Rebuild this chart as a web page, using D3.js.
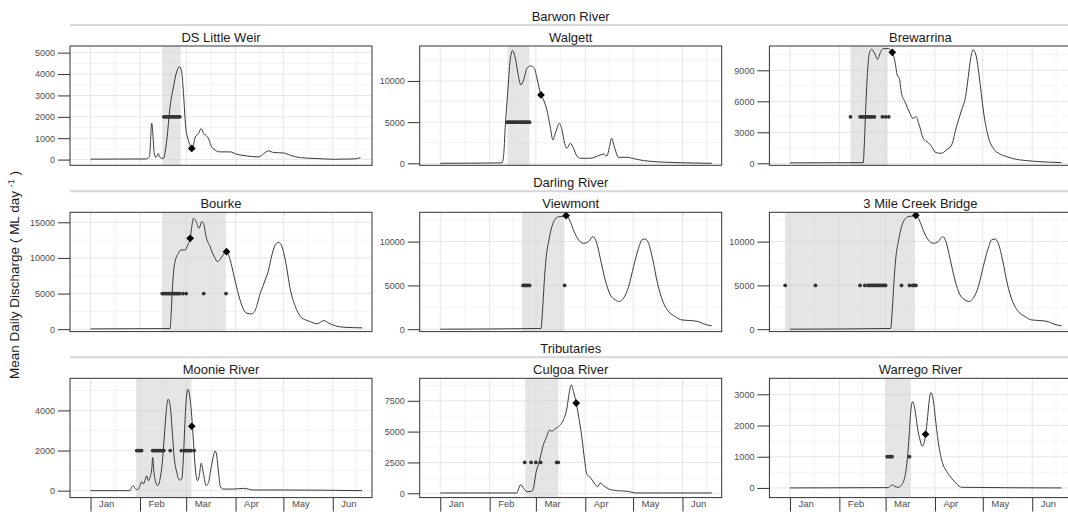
<!DOCTYPE html>
<html>
<head>
<meta charset="utf-8">
<script src="https://cdn.jsdelivr.net/npm/d3@7"></script>
<style>
  body { margin: 0; background: #fff; }
  svg { display: block; font-family: "Liberation Sans", Arial, sans-serif; }
</style>
</head>
<body>
<div id="chart"></div>
<script>
// facet rows (strip titles) and panel titles
const groups = ["Barwon River", "Darling River", "Tributaries"];
const sites = [
    ["DS Little Weir", "Walgett", "Brewarrina"],
    ["Bourke", "Viewmont", "3 Mile Creek Bridge"],
    ["Moonie River", "Culgoa River", "Warrego River"]
];
const monthLabels = ["Jan", "Feb", "Mar", "Apr", "May", "Jun"];

// daily discharge, [day since 1 Jan, ML/day]
const flowDSLittleWeir = [[0,20],[35,30],[37,150],[38.4,1700],[40,280],[41,100],[42.5,280],[43.5,100],[45.7,50],[47.8,900],[49.9,2470],[52,3400],[54,4100],[55.8,4340],[57.2,4100],[58.3,3100],[59.7,1530],[61.4,900],[62.8,600],[64,560],[65.7,1060],[67.7,1220],[69.4,1450],[70.9,1220],[72.3,1140],[74,980],[75.5,670],[78.2,440],[81.3,360],[87.6,360],[91.8,250],[98,170],[105.5,125],[108.6,280],[111.7,410],[114.9,330],[121,310],[125.4,200],[131.7,90],[142.2,50],[152.6,15],[165.2,30],[169.4,90]];
const flowWalgett = [[0,0],[38.7,50],[39.7,810],[40.8,4450],[42.3,8500],[43.9,12550],[45.4,13690],[47.1,12760],[49.1,10530],[50.6,9520],[52.3,10125],[54.4,11540],[56.5,11830],[59,11540],[60.7,10330],[63.2,8300],[64.8,7700],[66.9,6480],[69,4455],[70.7,2835],[72.2,3650],[74.9,4860],[76.4,4050],[78,2430],[79.5,1820],[81.6,2430],[83.6,1820],[85.7,890],[87.8,610],[94,610],[100.4,1010],[102.5,1130],[104.6,890],[106.2,2030],[107.5,3040],[109.2,2030],[111.9,730],[117,730],[121.3,570],[127.6,325],[138,160],[148.5,80],[170.4,0]];
const flowBrewarrina = [[0,40],[46,60],[46.6,1610],[47.5,5160],[48.5,8390],[49.8,10650],[51.2,11030],[53.3,10580],[55,10060],[56.9,10800],[58.5,11100],[61.7,11100],[64.2,10740],[65.9,9840],[67.3,8550],[68.6,8230],[70,6770],[72.1,5970],[75.3,4840],[77,4350],[79,4520],[81.1,3710],[83.6,2420],[86.8,2000],[88.9,1610],[91.6,1030],[95,970],[98.2,1290],[101.4,1770],[104.5,3550],[107.7,5160],[110.2,6450],[111.9,8390],[113.4,10160],[115,10970],[116.7,10480],[118.8,8390],[121.3,5160],[124.4,2580],[127.6,1450],[131.7,900],[135.9,650],[140,450],[148.5,260],[156.8,160],[170.4,65]];
const flowBourke = [[0,40],[49.9,90],[50.5,1780],[51.2,5040],[52,7850],[53,9480],[55.1,10650],[56.6,11110],[59.3,11110],[61,11820],[62.5,12750],[63.5,14380],[64.6,15550],[66.3,15080],[68,14150],[69.8,15080],[70.9,14850],[72.5,12980],[75,11580],[77.8,10090],[79.7,9480],[81.8,9950],[83.9,10650],[85.3,10880],[87.6,9710],[90.1,7380],[92.9,4810],[95.6,2940],[98.1,2240],[101.3,2150],[103.4,2710],[106.5,5040],[109.6,6910],[111.7,8310],[113.8,10410],[115.9,11820],[118,12190],[120.1,11580],[122.2,9710],[125.4,5510],[128.5,3180],[131.7,1780],[134.8,1310],[137.9,1070],[142.1,750],[146.3,1210],[149.5,840],[153.7,470],[158.9,280],[170.4,190]];
const flowViewmont = [[0,0],[63.2,80],[64.2,2200],[65.2,5250],[66.5,8290],[68,10000],[70,11710],[72.1,12550],[74.2,12850],[76.3,12850],[79,12970],[81.1,12470],[84,11140],[86.8,10190],[90,9810],[93,10000],[95.8,10570],[97.9,10000],[100.4,8100],[103.5,5630],[106.7,3920],[109.8,3350],[112.5,3160],[115,3540],[118.2,4870],[121.3,7150],[124.4,9240],[126.5,10190],[128.6,10300],[130.7,9810],[133.4,7910],[136.3,5250],[139.7,3160],[143.3,2020],[147.4,1440],[151.6,1060],[156.8,990],[162,870],[165.2,610],[170.4,380]];
const flow3MileCreek = [[0,0],[63.2,80],[64.2,2200],[65.2,5250],[66.5,8290],[68,10000],[70,11710],[72.1,12550],[74.2,12850],[76.3,12900],[79,13000],[81.1,12470],[84,11140],[86.8,10190],[90,9810],[93,10000],[95.8,10570],[97.9,10000],[100.4,8100],[103.5,5630],[106.7,3920],[109.8,3350],[112.5,3160],[115,3540],[118.2,4870],[121.3,7150],[124.4,9240],[126.5,10190],[128.6,10300],[130.7,9810],[133.4,7910],[136.3,5250],[139.7,3160],[143.3,2020],[147.4,1440],[151.6,1060],[156.8,990],[162,870],[165.2,610],[170.4,380]];
const flowMoonie = [[0,0],[24.7,0],[25.8,165],[26.8,250],[27.9,115],[28.9,50],[30,80],[31,250],[32.1,445],[33.1,330],[34.4,575],[35.2,740],[36.3,490],[37.3,660],[38.4,1070],[39,1650],[39.8,905],[40.9,410],[42.1,250],[43.6,575],[45,1400],[46.3,2720],[47.4,3870],[48.6,4560],[49.9,4280],[51.2,3050],[52.4,1730],[54.1,905],[55.8,530],[57.2,575],[58.3,1730],[59.3,3540],[60.4,4860],[61,5050],[62.1,4770],[63.5,3700],[64.6,2390],[65.6,1230],[67.1,490],[68.2,740],[69.4,1370],[70.9,820],[72.5,250],[74,410],[75.5,1070],[77.1,1730],[78.2,1980],[79.2,1730],[80.3,905],[81.3,250],[83,80],[89.7,80],[96,115],[102.3,33],[121.2,33],[170.4,0]];
const flowCulgoa = [[0,20],[48.1,20],[49.1,350],[50.6,700],[52.3,400],[54.4,130],[57.5,160],[58.6,480],[60.1,1690],[61.7,2360],[63.2,3160],[64.8,3970],[66.5,4500],[68.6,5120],[70,5040],[72.1,5230],[74.9,5490],[77.4,5980],[79.5,6910],[80.9,8120],[82.2,8790],[83.6,8250],[85.3,7320],[86.8,6250],[88.9,4500],[90.5,2760],[92,1550],[94.1,1290],[96.6,830],[98.7,540],[100.4,830],[102.5,620],[105.6,350],[110.8,210],[117,160],[123.4,20],[170.4,20]];
const flowWarrego = [[0,0],[61.7,10],[63.2,65],[64.4,95],[65.9,45],[68,20],[70,95],[72.1,360],[73.6,900],[74.9,1750],[75.9,2500],[77,2760],[78.5,2500],[79.9,1960],[81.6,1540],[83,1340],[84.1,1430],[85.1,1720],[86.4,2280],[87.4,2820],[88.5,3050],[89.9,2820],[91.6,2070],[93.5,1320],[95.8,790],[98.4,520],[101.4,310],[104.6,130],[107.7,20],[170.4,0]];

// shaded window [start day, end day]
const windowDays = [[45.1, 56.6], [42.2, 56], [38, 61.3], [45, 84.9], [51.2, 78], [-3.1, 78.4], [28.5, 63.3], [53.3, 74.2], [60.2, 75.7]];
// sampling points: level and days
const sampleLevel = [2000, 5000, 4500, 5000, 5000, 5000, 2000, 2500, 1000];
const sampleDays = [
    [46,47,48,49,50,51,52,53,54,55,56],
    [42,43,44,45,46,47,48,49,50,51,52,53,54,55,56],
    [38,44,45,46,47,48,49,50,51,52,53,58,60,62],
    [45,46,47,48,49,50,51,52,53,54,55,56,58,60,71,85],
    [52,53,54,55,56,78],
    [-3,16,44,47,49,50,51,52,53,54,55,56,57,58,59,60,70,75,77,78,79],
    [29,30,31,32,39,40,41,42,43,44,45,46,50,57,59,60,61,62,63,65],
    [53,57,60,63,73,74],
    [61,62,63,64,75]
];
// diamond markers [day, value]
const peakPoints = [
    [[63.5, 520]], [[63.2, 8300]], [[64.2, 10740]],
    [[62.5, 12750], [85.3, 10880]], [[79, 12970]], [[79, 13000]],
    [[63.5, 3210]], [[85.3, 7320]], [[85.1, 1720]]
];
// y axis limits and ticks per panel
const yLimits = [[-267, 5311], [-243, 14246], [-194, 11352], [-336, 16400], [-274, 13347], [-274, 13347], [-346, 5600], [-354, 9325], [-310, 3513]];
const yTicks = [
    [0,1000,2000,3000,4000,5000], [0,5000,10000], [0,3000,6000,9000],
    [0,5000,10000,15000], [0,5000,10000], [0,5000,10000],
    [0,2000,4000], [0,2500,5000,7500], [0,1000,2000,3000]
];
const xLimits = [-12.9, 176.6]; // days from 1 Jan

const flows = [flowDSLittleWeir, flowWalgett, flowBrewarrina, flowBourke, flowViewmont, flow3MileCreek, flowMoonie, flowCulgoa, flowWarrego];

// layout
const W = 1068, H = 512;
const colLeft = [70, 419.7, 769.4], panelW = 302;
const rowTop = [46, 212.3, 378.3], panelH = 119.3;

const t0 = new Date(2020, 0, 1);
const toDate = d => new Date(t0.getTime() + d * 864e5);
const monthStarts = d3.timeMonth.range(t0, new Date(2020, 6, 1));
const monthAll = d3.timeMonth.range(t0, new Date(2020, 7, 1));
const monthMids = d3.pairs(monthAll).map(([a, b]) => new Date((a.getTime() + b.getTime()) / 2));

const svg = d3.select("#chart").append("svg")
    .attr("width", W)
    .attr("height", H);

// y axis title
const yTitle = svg.append("text")
    .attr("transform", "translate(19,275) rotate(-90)")
    .attr("text-anchor", "middle")
    .style("font-size", "13.5px")
    .style("fill", "#1a1a1a");
yTitle.append("tspan").text("Mean Daily Discharge ( ML day ");
yTitle.append("tspan").attr("dy", -5).style("font-size", "9px").text("-1");
yTitle.append("tspan").attr("dy", 5).text(" )");

// strips
groups.forEach((g, r) => {
    svg.append("line")
        .attr("x1", colLeft[0]).attr("x2", W)
        .attr("y1", rowTop[r] - 21).attr("y2", rowTop[r] - 21)
        .style("stroke", "#d6d6d6")
        .style("stroke-width", 2);
    svg.append("text")
        .attr("x", (colLeft[0] + colLeft[2] + panelW) / 2)
        .attr("y", rowTop[r] - 30)
        .attr("dy", "0.35em")
        .attr("text-anchor", "middle")
        .style("font-size", "13px")
        .style("fill", "#1a1a1a")
        .text(g);
});

sites.forEach((row, r) => row.forEach((site, c) => {
    const i = r * 3 + c;
    const left = colLeft[c], top = rowTop[r];

    const x = d3.scaleTime()
        .domain(xLimits.map(toDate))
        .range([0, panelW]);
    const y = d3.scaleLinear()
        .domain(yLimits[i])
        .range([panelH, 0]);

    // panel title
    svg.append("text")
        .attr("x", left + panelW / 2)
        .attr("y", top - 9)
        .attr("dy", "0.35em")
        .attr("text-anchor", "middle")
        .style("font-size", "13px")
        .style("fill", "#1a1a1a")
        .text(site);

    const g = svg.append("g").attr("transform", `translate(${left},${top})`);
    const clipId = "clip" + i;
    g.append("clipPath").attr("id", clipId)
        .append("rect").attr("width", panelW).attr("height", panelH);
    const inner = g.append("g").attr("clip-path", `url(#${clipId})`);

    // minor grid
    const ticks = yTicks[i];
    const step = ticks[1] - ticks[0];
    const yMinor = d3.range(ticks[0] - step / 2, yLimits[i][1], step).filter(v => v > yLimits[i][0]);
    inner.selectAll(".vminor").data(monthMids).enter().append("line")
        .attr("x1", d => x(d)).attr("x2", d => x(d))
        .attr("y1", 0).attr("y2", panelH)
        .style("stroke", "#f3f3f3");
    inner.selectAll(".hminor").data(yMinor).enter().append("line")
        .attr("x1", 0).attr("x2", panelW)
        .attr("y1", d => y(d)).attr("y2", d => y(d))
        .style("stroke", "#f3f3f3");
    // major grid
    inner.selectAll(".vmajor").data(monthStarts).enter().append("line")
        .attr("x1", d => x(d)).attr("x2", d => x(d))
        .attr("y1", 0).attr("y2", panelH)
        .style("stroke", "#e6e6e6");
    inner.selectAll(".hmajor").data(ticks).enter().append("line")
        .attr("x1", 0).attr("x2", panelW)
        .attr("y1", d => y(d)).attr("y2", d => y(d))
        .style("stroke", "#e6e6e6");

    // shaded window
    inner.append("rect")
        .attr("x", x(toDate(windowDays[i][0])))
        .attr("width", x(toDate(windowDays[i][1])) - x(toDate(windowDays[i][0])))
        .attr("y", 0)
        .attr("height", panelH)
        .style("fill", "#cfcfcf")
        .style("opacity", 0.55);

    // discharge line
    const line = d3.line()
        .x(d => x(toDate(d[0])))
        .y(d => y(d[1]))
        .curve(d3.curveMonotoneX);
    inner.append("path")
        .datum(flows[i])
        .attr("d", line)
        .style("fill", "none")
        .style("stroke", "#3a3a3a")
        .style("stroke-width", 1);

    // sample points
    inner.selectAll(".sample").data(sampleDays[i]).enter().append("circle")
        .attr("cx", d => x(toDate(d)))
        .attr("cy", y(sampleLevel[i]))
        .attr("r", 1.9)
        .style("fill", "#333");

    // diamonds
    inner.selectAll(".peak").data(peakPoints[i]).enter().append("path")
        .attr("d", d3.symbol().type(d3.symbolSquare).size(30))
        .attr("transform", d => `translate(${x(toDate(d[0]))},${y(d[1])}) rotate(45)`)
        .style("fill", "#000");

    // border
    g.append("rect")
        .attr("width", panelW).attr("height", panelH)
        .style("fill", "none")
        .style("stroke", "#333")
        .style("stroke-width", 1);

    // y axis
    const yAxis = g.append("g")
        .call(d3.axisLeft(y).tickValues(ticks).tickSize(12).tickPadding(3).tickFormat(d3.format("d")));
    yAxis.select(".domain").remove();
    yAxis.selectAll("line").style("stroke", "#333");
    yAxis.selectAll("text")
        .style("font-size", "9px")
        .style("font-family", "Liberation Sans, Arial, sans-serif")
        .style("fill", "#4d4d4d");

    // x axis only on bottom row
    if (r === sites.length - 1) {
        const xAxis = g.append("g")
            .attr("transform", `translate(0,${panelH})`)
            .call(d3.axisBottom(x).tickValues(monthStarts).tickSize(14)
                .tickFormat((d, k) => monthLabels[k]));
        xAxis.select(".domain").remove();
        xAxis.selectAll("line").style("stroke", "#333");
        xAxis.selectAll("text")
            .attr("text-anchor", "start")
            .attr("x", 8)
            .attr("y", 3)
            .attr("dy", "0.71em")
            .style("font-size", "9.5px")
            .style("font-family", "Liberation Sans, Arial, sans-serif")
            .style("fill", "#4d4d4d");
    }
}));
</script>
</body>
</html>
